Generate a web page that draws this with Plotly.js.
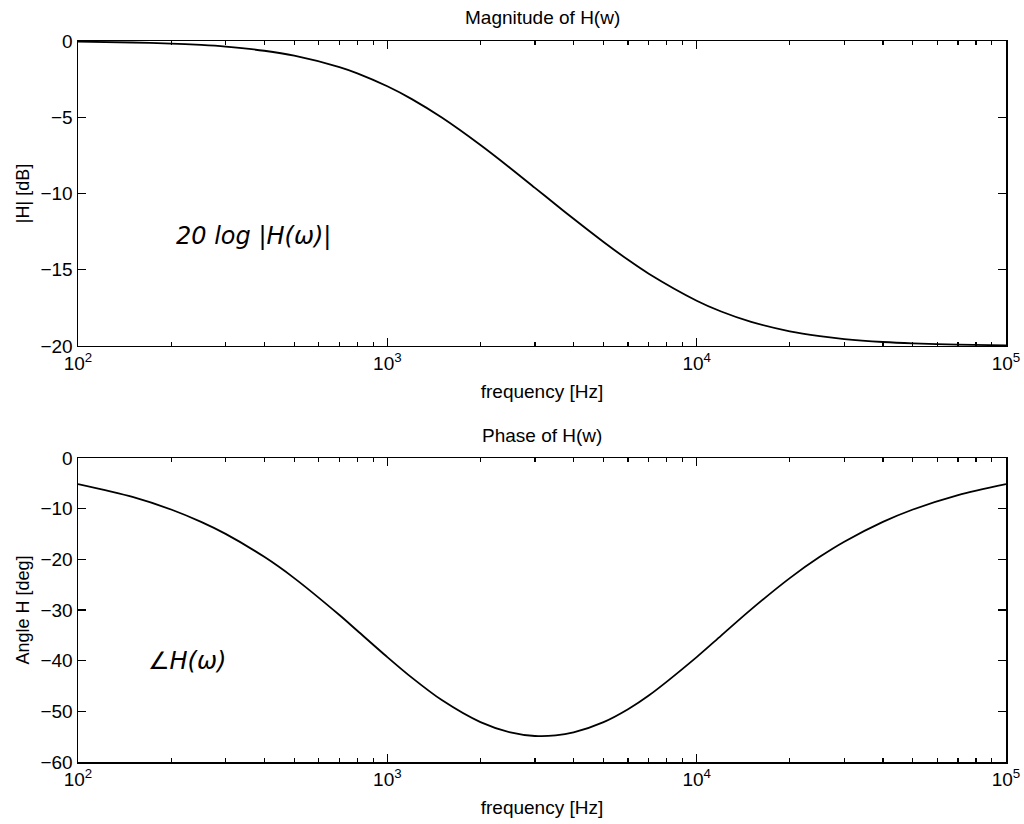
<!DOCTYPE html>
<html>
<head>
<meta charset="utf-8">
<script src="https://cdn.plot.ly/plotly-3.0.1.min.js"></script>
<style>html,body{margin:0;padding:0;background:#fff;}#plot{width:1024px;height:824px;}</style>
</head>
<body>
<div id="plot"></div>
<script>
// Frequencies [Hz]
var freq = [100, 150, 200, 250, 300, 400, 500, 700, 800, 1000, 1200, 1500, 2000, 2500, 3000, 3500, 4000, 5000, 6000, 7000, 10000, 12000, 15000, 20000, 25000, 30000, 40000, 50000, 70000, 100000];
// Magnitude |H| [dB]
var magDB = [-0.04, -0.10, -0.17, -0.26, -0.37, -0.64, -0.96, -1.71, -2.12, -2.97, -3.81, -5.02, -6.82, -8.34, -9.63, -10.72, -11.66, -13.18, -14.35, -15.26, -17.03, -17.74, -18.42, -19.04, -19.36, -19.55, -19.74, -19.83, -19.91, -19.96];
// Phase [deg]
var phaseDeg = [-5.14, -7.67, -10.16, -12.61, -14.98, -19.51, -23.70, -30.99, -34.09, -39.29, -43.35, -47.78, -52.13, -54.16, -54.87, -54.76, -54.16, -52.13, -49.58, -46.88, -39.29, -35.05, -29.88, -23.70, -19.51, -16.52, -12.61, -10.16, -7.31, -5.14];

var xTickVals = [100, 1000, 10000, 100000];
var xTickText = ['10<sup>2</sup>', '10<sup>3</sup>', '10<sup>4</sup>', '10<sup>5</sup>'];
var xMinorVals = [200,300,400,500,600,700,800,900,2000,3000,4000,5000,6000,7000,8000,9000,20000,30000,40000,50000,60000,70000,80000,90000];
var magTicks = [0, -5, -10, -15, -20];
var phaseTicks = [0, -10, -20, -30, -40, -50, -60];

var fam = 'Liberation Sans, Arial, sans-serif';

function xaxis(anchor) {
  return {
    type: 'log', range: [2, 5], anchor: anchor,
    tickmode: 'array', tickvals: xTickVals, ticktext: xTickText,
    ticks: 'inside', ticklen: 8, tickwidth: 1.3, tickcolor: '#000',
    minor: {tickmode: 'array', tickvals: xMinorVals, ticks: 'inside', ticklen: 4, tickwidth: 1.2, tickcolor: '#000', showgrid: false},
    showline: true, linecolor: '#000', linewidth: 1.5, mirror: 'allticks',
    showgrid: false, zeroline: false,
    tickfont: {family: fam, size: 19, color: '#000'},
    title: {text: 'frequency [Hz]', font: {family: fam, size: 19, color: '#000'}, standoff: 11}
  };
}
function yaxis(anchor, domain, range, tv, label) {
  return {
    domain: domain, range: range, anchor: anchor,
    tickmode: 'array', tickvals: tv,
    ticks: 'inside', ticklen: 8, tickwidth: 1.3, tickcolor: '#000',
    showline: true, linecolor: '#000', linewidth: 1.5, mirror: 'allticks',
    showgrid: false, zeroline: false,
    tickfont: {family: fam, size: 19, color: '#000'},
    title: {text: label, font: {family: fam, size: 18, color: '#000'}, standoff: 6}
  };
}

var data = [
  {x: freq, y: magDB, xaxis: 'x', yaxis: 'y', mode: 'lines', line: {color: '#000', width: 1.8, shape: 'spline', smoothing: 0.8}, showlegend: false},
  {x: freq, y: phaseDeg, xaxis: 'x2', yaxis: 'y2', mode: 'lines', line: {color: '#000', width: 1.8, shape: 'spline', smoothing: 0.8}, showlegend: false}
];

var layout = {
  width: 1024, height: 824,
  margin: {l: 78, r: 18, t: 41, b: 62},
  paper_bgcolor: '#fff', plot_bgcolor: '#fff',
  font: {family: fam, size: 16, color: '#000'},
  xaxis: xaxis('y'),
  yaxis: yaxis('x', [0.577, 1], [-20, 0], magTicks, '|H| [dB]'),
  xaxis2: xaxis('y2'),
  yaxis2: yaxis('x2', [0, 0.4216], [-60, 0], phaseTicks, 'Angle H [deg]'),
  annotations: [
    {text: 'Magnitude of H(w)', xref: 'paper', yref: 'paper', x: 0.5, y: 1, yshift: 11, yanchor: 'bottom', showarrow: false, font: {family: fam, size: 19, color: '#000'}},
    {text: 'Phase of H(w)', xref: 'paper', yref: 'paper', x: 0.5, y: 0.4216, yshift: 10, yanchor: 'bottom', showarrow: false, font: {family: fam, size: 19, color: '#000'}},
    {text: '20 log |H(ω)|', xref: 'x', yref: 'y', x: Math.log10(370), y: -12.8, showarrow: false, font: {family: 'DejaVu Sans, sans-serif', size: 24, color: '#000', style: 'italic'}},
    {text: '∠H(ω)', xref: 'x2', yref: 'y2', x: Math.log10(225), y: -40, showarrow: false, font: {family: 'DejaVu Sans, sans-serif', size: 24, color: '#000', style: 'italic'}}
  ]
};

Plotly.newPlot('plot', data, layout, {staticPlot: true});
</script>
</body>
</html>
